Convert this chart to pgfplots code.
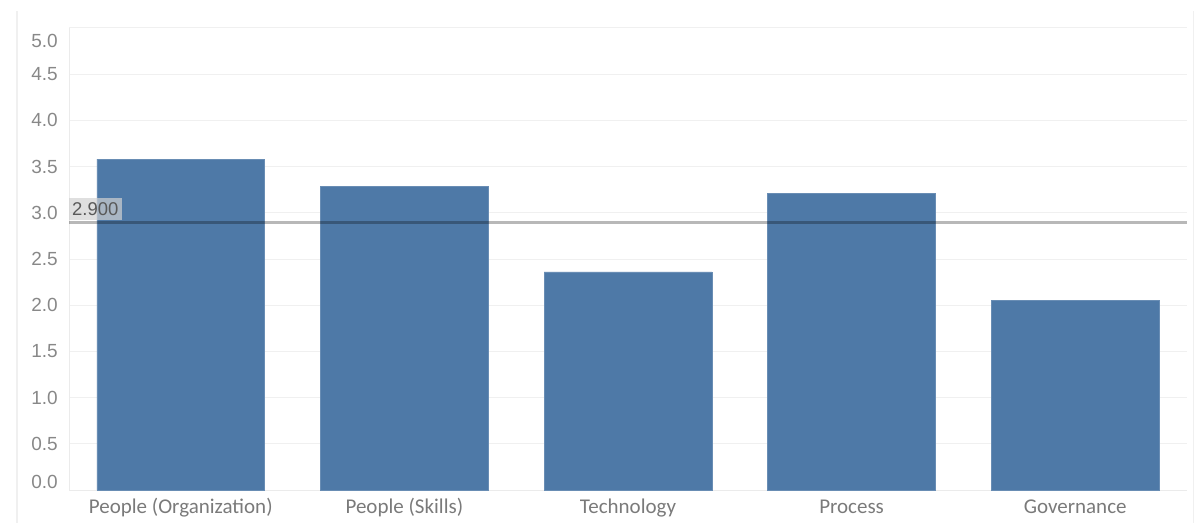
\documentclass[border=0pt]{standalone}
\usepackage{pgfplots}
\pgfplotsset{compat=1.18}
\usepackage{fontspec}
\setmainfont{Liberation Sans}
\newfontfamily\calibri{Carlito}
\definecolor{barblue}{HTML}{4E79A7}
\definecolor{labgray}{HTML}{888888}
\definecolor{xlabgray}{HTML}{7A7A7A}
\begin{document}
\begin{tikzpicture}
\begin{axis}[
  name=ax,
  scale only axis,
  width=1118pt, height=462pt,
  xmin=-0.5, xmax=4.5, ymin=0, ymax=5,
  axis line style={draw=black!8},
  axis x line*=bottom, axis y line*=left,
  xtick={0,1,2,3,4},
  xticklabels={People (Organization),People (Skills),Technology,Process,Governance},
  xticklabel style={font=\calibri\fontsize{21}{24}\selectfont, text=xlabgray, inner sep=0pt,
                    anchor=north, text height=14pt, text depth=5pt, yshift=-9pt},
  xtick style={draw=none},
  extra x ticks={-0.5,0.5,1.5,2.5,3.5,4.5},
  extra x tick labels={},
  extra x tick style={tick style={draw=black!10, line width=0.8pt}, major tick length=6pt, tick align=outside},
  ytick={0,0.5,1,1.5,2,2.5,3,3.5,4,4.5,5},
  yticklabels={{},0.5,1.0,1.5,2.0,2.5,3.0,3.5,4.0,4.5,{}},
  extra y ticks={0.087,4.86},
  extra y tick labels={0.0,5.0},
  extra y tick style={grid=none},
  ytick style={draw=none},
  yticklabel style={font=\fontsize{19}{22}\selectfont, text=labgray, inner sep=0pt, xshift=-11pt},
  ymajorgrids,
  grid style={draw=black!6, line width=1pt},
  clip=false,
]
\addplot[ybar, bar width=0.75, fill=barblue, draw=barblue!85!white, line width=0.6pt]
  coordinates {(0,3.58) (1,3.29) (2,2.36) (3,3.21) (4,2.05)};
\addplot[black, opacity=0.28, line width=3pt, forget plot]
  coordinates {(-0.5,2.9) (4.5,2.9)};
\node[anchor=south west, fill=black!18, fill opacity=0.7, text opacity=1, text=black!65,
      font=\fontsize{18.5}{20}\selectfont, inner xsep=3pt, inner ysep=3pt, minimum height=22pt]
  at (axis cs:-0.5,2.9) [yshift=1.5pt] {2.900};
\end{axis}
\draw[black!6, line width=1pt] ([shift={(-52pt,17pt)}]ax.north west) -- ([shift={(-52pt,-33pt)}]ax.south west);
\draw[black!6, line width=1pt] ([shift={(6pt,17pt)}]ax.north east) -- ([shift={(6pt,-33pt)}]ax.south east);
\path[use as bounding box] ([shift={(-69pt,-33pt)}]ax.south west) rectangle ([shift={(14pt,28pt)}]ax.north east);
\end{tikzpicture}
\end{document}
